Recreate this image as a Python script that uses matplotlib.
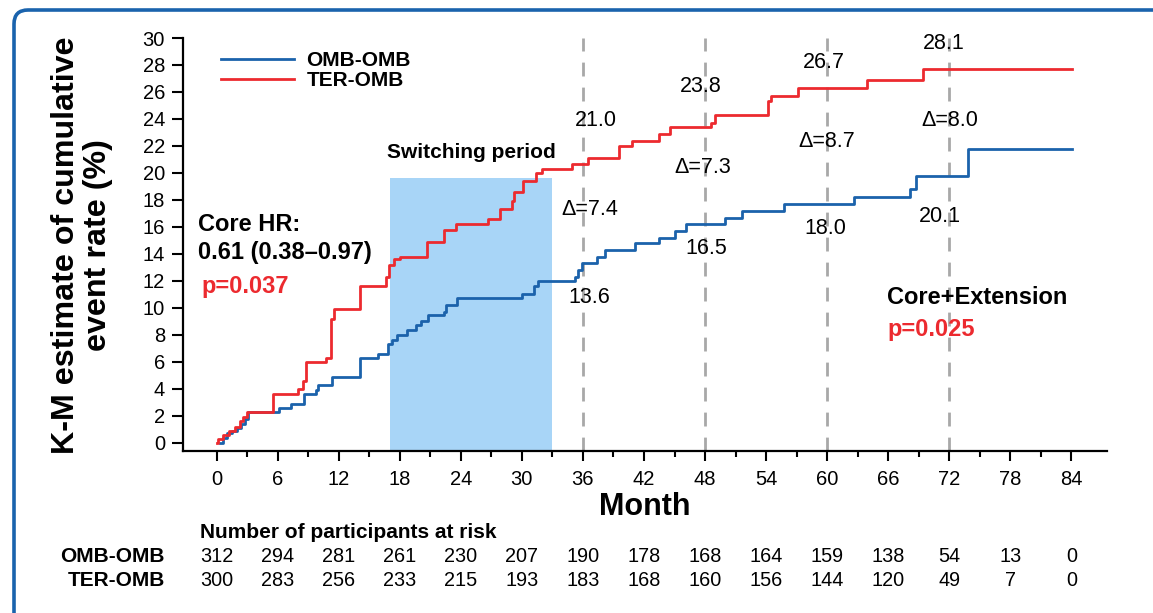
import numpy as np
import matplotlib.pyplot as plt
from matplotlib import patches, transforms

plt.rcParams['font.family'] = ['Liberation Sans', 'DejaVu Sans']

# K-M steps (month, cumulative %)
t_omb = [0.3, 0.6, 1.0, 1.5, 2.0, 2.4, 2.8, 3.1, 6.1, 7.3, 8.6, 9.8, 10.0, 11.3, 14.1, 15.9,
         16.8, 17.2, 17.7, 18.7, 19.6, 20.1, 20.8, 22.3, 22.5, 23.6, 30.0, 31.2, 31.6, 35.2,
         35.5, 35.9, 37.4, 38.2, 41.1, 43.5, 45.0, 46.1, 50.0, 51.6, 55.8, 62.6, 68.1, 68.7,
         73.8, 84.1]
v_omb = [0.0, 0.4, 0.7, 0.9, 1.1, 1.4, 1.8, 2.3, 2.6, 2.9, 3.6, 3.9, 4.3, 4.9, 6.3, 6.6,
         7.3, 7.6, 8.0, 8.4, 8.7, 9.0, 9.5, 9.7, 10.2, 10.7, 11.0, 11.6, 12.0, 12.3,
         12.8, 13.3, 13.8, 14.3, 14.8, 15.2, 15.7, 16.2, 16.7, 17.2, 17.7, 18.2, 18.8, 19.8,
         21.8, 21.8]

t_ter = [0.0, 0.1, 0.6, 1.2, 1.8, 2.3, 2.6, 3.0, 5.5, 8.0, 8.5, 8.8, 10.8, 11.2, 11.5, 14.1,
         16.6, 16.9, 17.4, 18.0, 20.7, 22.3, 23.5, 26.7, 27.9, 29.0, 29.2, 30.1, 31.4, 32.0,
         34.9, 36.5, 39.5, 40.8, 43.5, 44.6, 48.6, 49.0, 54.2, 54.5, 57.1, 63.9, 69.4, 84.1]
v_ter = [0.0, 0.3, 0.6, 0.9, 1.2, 1.6, 1.9, 2.3, 3.6, 4.0, 4.6, 6.0, 6.3, 9.2, 9.9, 11.6,
         12.3, 13.2, 13.6, 13.8, 14.9, 15.8, 16.2, 16.6, 17.3, 17.9, 18.6, 19.4, 20.0, 20.3,
         20.7, 21.1, 22.0, 22.4, 22.9, 23.4, 23.7, 24.3, 25.3, 25.7, 26.3, 26.9, 27.7, 27.7]

landmarks = [36, 48, 60, 72]
ter_labels = ['21.0', '23.8', '26.7', '28.1']
delta_labels = ['Δ=7.4', 'Δ=7.3', 'Δ=8.7', 'Δ=8.0']
omb_labels = ['13.6', '16.5', '18.0', '20.1']

risk_months = list(range(0, 85, 6))
risk_omb = [312, 294, 281, 261, 230, 207, 190, 178, 168, 164, 159, 138, 54, 13, 0]
risk_ter = [300, 283, 256, 233, 215, 193, 183, 168, 160, 156, 144, 120, 49, 7, 0]

BLUE = '#1b62ab'
RED = '#ec2a2f'

fig = plt.figure(figsize=(11.53, 6.13), dpi=100)
ax = fig.add_axes([183/1153, 1 - 451/613, (1107 - 183)/1153, (451 - 38)/613])

# rounded frame round the whole panel
frame = patches.FancyBboxPatch((14, -40), 1200, 613 - 10 + 40,
                               boxstyle='round,pad=0,rounding_size=14',
                               transform=transforms.IdentityTransform(),
                               fill=False, edgecolor='#1a63ad', linewidth=2.6, zorder=0)
fig.patches.append(frame)

ax.axvspan(17, 33, ymin=0, ymax=(19.6 + 0.6) / 30.6, color='#a8d5f7', lw=0, zorder=1)
for m in landmarks:
    ax.axvline(m, color='#a8a8a8', lw=2, dashes=(5, 4), zorder=2)

ax.step(t_omb, v_omb, where='post', color=BLUE, lw=2, label='OMB-OMB', zorder=3)
ax.step(t_ter, v_ter, where='post', color=RED, lw=2, label='TER-OMB', zorder=3)

ax.set_xlim(-3.3, 87.5)
ax.set_ylim(-0.6, 30)
ax.set_xticks(risk_months)
ax.set_xticks(range(3, 84, 6), minor=True)
ax.set_yticks(range(0, 31, 2))
for s in ['top', 'right']:
    ax.spines[s].set_visible(False)
ax.spines['left'].set_bounds(-0.6, 30)
for s in ['left', 'bottom']:
    ax.spines[s].set_linewidth(1.6)
ax.tick_params(axis='y', length=8, width=1.5, labelsize=14.5, pad=5)
ax.tick_params(axis='x', which='major', length=7.5, width=1.5, labelsize=14.5, pad=6)
ax.tick_params(axis='x', which='minor', length=4, width=1.5)

leg = ax.legend(loc='upper left', bbox_to_anchor=(0.041, 0.968), frameon=False,
                prop={'weight': 'bold', 'size': 15}, handlelength=3.5,
                handletextpad=0.6, labelspacing=0.05, borderpad=0, borderaxespad=0)

ann_fs = 15.5
ax.text(37.3, 23.9, ter_labels[0], ha='center', va='center', fontsize=ann_fs)
ax.text(36.7, 17.3, delta_labels[0], ha='center', va='center', fontsize=ann_fs)
ax.text(36.6, 10.8, omb_labels[0], ha='center', va='center', fontsize=ann_fs)
ax.text(47.6, 26.4, ter_labels[1], ha='center', va='center', fontsize=ann_fs)
ax.text(47.8, 20.4, delta_labels[1], ha='center', va='center', fontsize=ann_fs)
ax.text(48.1, 14.4, omb_labels[1], ha='center', va='center', fontsize=ann_fs)
ax.text(59.7, 28.2, ter_labels[2], ha='center', va='center', fontsize=ann_fs)
ax.text(60.0, 22.3, delta_labels[2], ha='center', va='center', fontsize=ann_fs)
ax.text(59.8, 15.9, omb_labels[2], ha='center', va='center', fontsize=ann_fs)
ax.text(71.5, 29.6, ter_labels[3], ha='center', va='center', fontsize=ann_fs)
ax.text(72.1, 23.9, delta_labels[3], ha='center', va='center', fontsize=ann_fs)
ax.text(71.1, 16.8, omb_labels[3], ha='center', va='center', fontsize=ann_fs)

ax.text(25.0, 21.5, 'Switching period', ha='center', va='center', fontsize=15, weight='bold')
ax.text(-1.8, 16.2, 'Core HR:', ha='left', va='center', fontsize=17, weight='bold')
ax.text(-1.8, 14.1, '0.61 (0.38–0.97)', ha='left', va='center', fontsize=17, weight='bold')
ax.text(-1.5, 11.6, 'p=0.037', ha='left', va='center', fontsize=17, weight='bold', color=RED)
ax.text(65.9, 10.8, 'Core+Extension', ha='left', va='center', fontsize=17, weight='bold')
ax.text(65.9, 8.4, 'p=0.025', ha='left', va='center', fontsize=17, weight='bold', color=RED)

ax.set_xlabel('Month', fontsize=22, weight='bold', labelpad=2)
fig.text(82/1153, 1 - 245/613, 'K-M estimate of cumulative\nevent rate (%)', rotation=90,
         ha='center', va='center', fontsize=23.2, weight='bold', multialignment='center',
         linespacing=1.1)

# number at risk table
tr = transforms.blended_transform_factory(ax.transData, fig.transFigure)
ax.text(-1.6, 1 - 533/613, 'Number of participants at risk', transform=tr, ha='left',
        va='center', fontsize=15, weight='bold')
fig.text(165/1153, 1 - 557/613, 'OMB-OMB', ha='right', va='center', fontsize=15, weight='bold')
fig.text(165/1153, 1 - 580/613, 'TER-OMB', ha='right', va='center', fontsize=15, weight='bold')
for m, a, b in zip(risk_months, risk_omb, risk_ter):
    ax.text(m, 1 - 557/613, str(a), transform=tr, ha='center', va='center', fontsize=14.3)
    ax.text(m, 1 - 580/613, str(b), transform=tr, ha='center', va='center', fontsize=14.3)

fig.savefig('out.png', dpi=100)
